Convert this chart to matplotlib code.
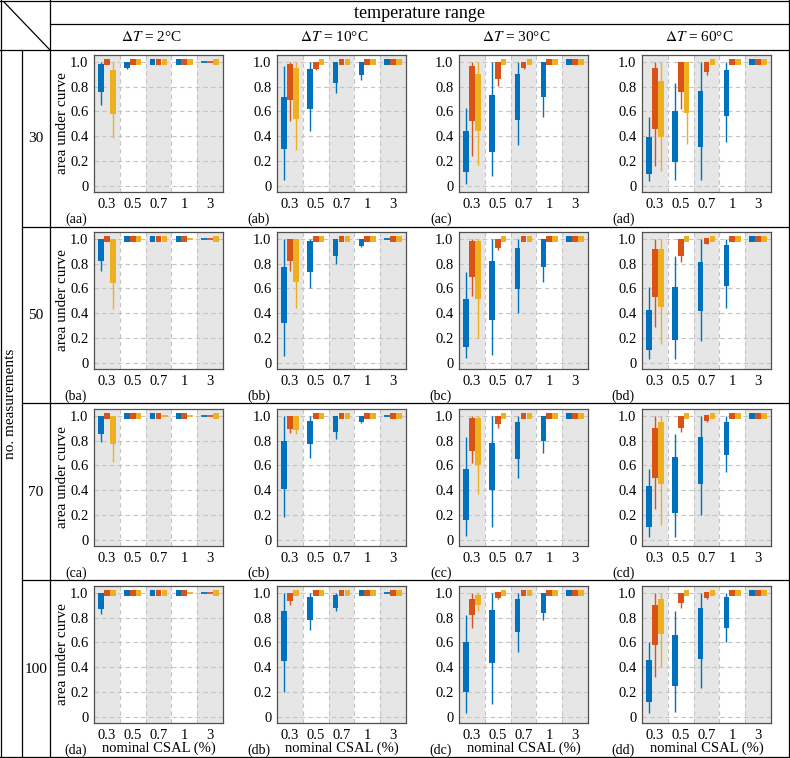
import matplotlib
matplotlib.use('Agg')
import matplotlib.pyplot as plt
from matplotlib.lines import Line2D

plt.rcParams['font.family'] = 'Liberation Serif'
plt.rcParams['mathtext.fontset'] = 'stix'

# each box: (whisker low, q1, q3, whisker high); S = all at 1.0 (square), L = flat line
S = (1.0, 1.0, 1.0, 1.0)
L = None

csal = ['0.3', '0.5', '0.7', '1', '3']
delta_t = [2, 10, 30, 60]
n_meas = ['30', '50', '70', '100']
row_ids = ['a', 'b', 'c', 'd']
col_ids = ['a', 'b', 'c', 'd']

# panels: [blue, orange, yellow], each with one entry per CSAL group
aa = [[(0.65, 0.755, 0.98, 1.0), (0.94, 0.95, 1.0, 1.0), S, S, L],
      [S, S, S, S, L],
      [(0.385, 0.58, 0.93, 1.0), S, S, S, S]]
ab = [[(0.05, 0.30, 0.72, 0.97), (0.445, 0.62, 0.945, 1.0), (0.75, 0.83, 1.0, 1.0), (0.85, 0.89, 1.0, 1.0), S],
      [(0.525, 0.69, 0.98, 1.0), (0.935, 0.945, 1.0, 1.0), S, S, S],
      [(0.29, 0.535, 0.95, 1.0), S, S, S, S]]
ac = [[(0.015, 0.11, 0.44, 0.63), (0.08, 0.27, 0.73, 1.0), (0.33, 0.53, 0.90, 1.0), (0.555, 0.72, 1.0, 1.0), S],
      [(0.24, 0.52, 0.97, 1.0), (0.805, 0.86, 1.0, 1.0), (0.94, 0.95, 1.0, 1.0), S, S],
      [(0.17, 0.445, 0.90, 1.0), S, S, S, S]]
ad = [[(0.035, 0.095, 0.39, 0.555), (0.045, 0.195, 0.60, 0.83), (0.045, 0.31, 0.765, 1.0), (0.355, 0.565, 0.93, 1.0), S],
      [(0.16, 0.46, 0.95, 1.0), (0.62, 0.76, 1.0, 1.0), (0.895, 0.92, 1.0, 1.0), S, S],
      [(0.12, 0.39, 0.845, 1.0), (0.335, 0.59, 1.0, 1.0), S, S, S]]

ba = [[(0.74, 0.82, 1.0, 1.0), S, S, S, L],
      [S, S, S, S, L],
      [(0.43, 0.645, 1.0, 1.0), S, S, L, S]]
bb = [[(0.057, 0.32, 0.77, 1.0), (0.60, 0.73, 0.98, 1.0), (0.795, 0.865, 1.0, 1.0), (0.93, 0.945, 1.0, 1.0), L],
      [(0.74, 0.82, 1.0, 1.0), S, S, S, S],
      [(0.44, 0.65, 1.0, 1.0), S, S, S, S]]
bc = [[(0.04, 0.13, 0.515, 0.73), (0.065, 0.345, 0.82, 1.0), (0.40, 0.595, 0.925, 1.0), (0.65, 0.775, 1.0, 1.0), S],
      [(0.54, 0.69, 0.98, 1.0), (0.91, 0.925, 1.0, 1.0), S, S, S],
      [(0.20, 0.515, 0.98, 1.0), S, S, S, S]]
bd = [[(0.03, 0.105, 0.425, 0.615), (0.03, 0.18, 0.615, 0.86), (0.175, 0.415, 0.815, 1.0), (0.445, 0.62, 0.95, 1.0), S],
      [(0.29, 0.53, 0.92, 1.0), (0.81, 0.865, 1.0, 1.0), (0.955, 0.96, 1.0, 1.0), S, S],
      [(0.155, 0.45, 0.92, 1.0), S, S, S, S]]

ca = [[(0.787, 0.85, 1.0, 1.0), S, S, S, L],
      [S, S, S, S, L],
      [(0.627, 0.77, 1.0, 1.0), S, L, L, S]]
cb = [[(0.18, 0.41, 0.80, 1.0), (0.66, 0.77, 0.96, 1.0), (0.81, 0.87, 1.0, 1.0), (0.94, 0.947, 1.0, 1.0), L],
      [(0.865, 0.89, 1.0, 1.0), S, S, S, S],
      [(0.85, 0.885, 1.0, 1.0), S, S, S, S]]
cc = [[(0.03, 0.16, 0.57, 0.83), (0.10, 0.40, 0.78, 1.0), (0.50, 0.65, 0.95, 1.0), (0.70, 0.80, 1.0, 1.0), S],
      [(0.62, 0.72, 0.98, 1.0), (0.90, 0.93, 1.0, 1.0), S, S, S],
      [(0.37, 0.60, 0.98, 1.0), S, S, S, S]]
cd = [[(0.02, 0.10, 0.43, 0.57), (0.02, 0.22, 0.67, 0.85), (0.20, 0.45, 0.83, 1.0), (0.55, 0.68, 0.95, 1.0), S],
      [(0.25, 0.50, 0.90, 1.0), (0.87, 0.90, 1.0, 1.0), (0.95, 0.96, 1.0, 1.0), S, S],
      [(0.12, 0.45, 0.95, 1.0), S, S, S, S]]

da = [[(0.83, 0.87, 1.0, 1.0), S, S, S, L],
      [S, S, S, S, L],
      [S, S, S, L, S]]
db = [[(0.20, 0.45, 0.85, 1.0), (0.70, 0.78, 0.97, 1.0), (0.85, 0.88, 0.98, 1.0), S, L],
      [(0.90, 0.93, 1.0, 1.0), S, S, S, S],
      [S, S, S, S, S]]
dc = [[(0.03, 0.20, 0.60, 0.82), (0.10, 0.43, 0.86, 1.0), (0.52, 0.68, 0.95, 1.0), (0.78, 0.84, 1.0, 1.0), S],
      [(0.72, 0.82, 0.95, 1.0), (0.95, 0.96, 1.0, 1.0), S, S, S],
      [(0.85, 0.90, 0.98, 1.0), S, S, S, S]]
dd = [[(0.03, 0.12, 0.46, 0.60), (0.04, 0.25, 0.66, 0.85), (0.23, 0.47, 0.88, 1.0), (0.60, 0.72, 0.97, 1.0), S],
      [(0.32, 0.58, 0.90, 1.0), (0.88, 0.92, 1.0, 1.0), (0.95, 0.96, 1.0, 1.0), S, S],
      [(0.40, 0.67, 0.95, 1.0), S, S, S, S]]

panels = [[aa, ab, ac, ad],
          [ba, bb, bc, bd],
          [ca, cb, cc, cd],
          [da, db, dc, dd]]

colors = ['#0072BD', '#D95319', '#EDB120']
offsets = [-0.23, 0.0, 0.23]
box_w = 0.22
min_h = 0.048

W, H = 790, 758
fig = plt.figure(figsize=(W / 100, H / 100), dpi=100)


def fx(px):
    return px / W


def fy(py):
    return 1 - py / H


def hline(y, x0, x1):
    fig.add_artist(Line2D([fx(x0), fx(x1)], [fy(y), fy(y)], color='k', lw=0.9))


def vline(x, y0, y1):
    fig.add_artist(Line2D([fx(x), fx(x)], [fy(y0), fy(y1)], color='k', lw=0.9))


def draw_panel(ax, data):
    for g in range(len(csal)):
        if g % 2 == 0:
            ax.axvspan(g - 0.5, g + 0.5, color='#e6e6e6', zorder=0, lw=0)
        if g < len(csal) - 1:
            ax.axvline(g + 0.5, color='#c4c4c4', lw=0.8, ls=(0, (4, 3)), zorder=0.6)
    for yv in [0, 0.2, 0.4, 0.6, 0.8, 1.0]:
        ax.axhline(yv, color='#c4c4c4', lw=0.8, ls=(0, (4, 3)), zorder=0.6)
    for s, series in enumerate(data):
        c = colors[s]
        for g, st in enumerate(series):
            x = g + offsets[s]
            if st is None:
                ax.plot([x - 0.12, x + 0.12], [1.0, 1.0], color=c, lw=1.3, zorder=2,
                        solid_capstyle='butt')
                continue
            lo, q1, q3, hi = st
            if hi > lo:
                ax.vlines(x, lo, hi, color=c, lw=1.0, zorder=2)
            h = q3 - q1
            b = q1
            if h < min_h:
                b = (q1 + q3) / 2 - min_h / 2
                h = min_h
            ax.bar(x, h, bottom=b, width=box_w, color=c, lw=0, zorder=3)
    ax.set_xlim(-0.5, 4.5)
    ax.set_ylim(-0.05, 1.055)
    ax.set_xticks(range(len(csal)))
    ax.set_xticklabels(csal)
    ax.set_yticks([0, 0.2, 0.4, 0.6, 0.8, 1.0])
    ax.set_yticklabels(['0', '0.2', '0.4', '0.6', '0.8', '1.0'])
    ax.tick_params(length=0, labelsize=10.5, pad=4)
    for sp in ax.spines.values():
        sp.set_color('#505050')
        sp.set_linewidth(0.9)


ax_left = [94, 277, 459, 642]
ax_w = 129
ax_h = 137
for r in range(4):
    top = 55 + 177 * r
    for c in range(4):
        ax = fig.add_axes([fx(ax_left[c]), fy(top + ax_h), ax_w / W, ax_h / H])
        draw_panel(ax, panels[r][c])
        if c == 0:
            ax.set_ylabel('area under curve', fontsize=11, labelpad=1)
        if r == 3:
            ax.set_xlabel('nominal CSAL (%)', fontsize=10.5, labelpad=0)
        fig.text(fx(ax_left[c] - 7), fy(top + ax_h + 27),
                 '(' + row_ids[r] + col_ids[c] + ')', ha='right', va='center', fontsize=10)
    fig.text(fx(36), fy(top + ax_h / 2 + 15), n_meas[r], ha='center', va='center', fontsize=11)

# header texts
fig.text(fx(420), fy(13), 'temperature range', ha='center', va='center', fontsize=13)
for c, dt in enumerate(delta_t):
    fig.text(fx(ax_left[c] + ax_w / 2 - 7), fy(37), r'$\Delta T$' + ' = %d°C' % dt,
             ha='center', va='center', fontsize=11)
fig.text(fx(11), fy(404), 'no. measurements', rotation=90, ha='center', va='center', fontsize=11)

# table lines
hline(1, 0, 790)
hline(24, 50, 790)
hline(50, 0, 790)
for yb in [227, 403, 580]:
    hline(yb, 22, 790)
hline(757, 0, 790)
vline(1, 0, 758)
vline(22, 50, 758)
vline(50, 0, 758)
vline(789, 0, 758)
fig.add_artist(Line2D([fx(4), fx(50)], [fy(2), fy(50)], color='k', lw=0.9))

fig.savefig('out.png', dpi=100)
